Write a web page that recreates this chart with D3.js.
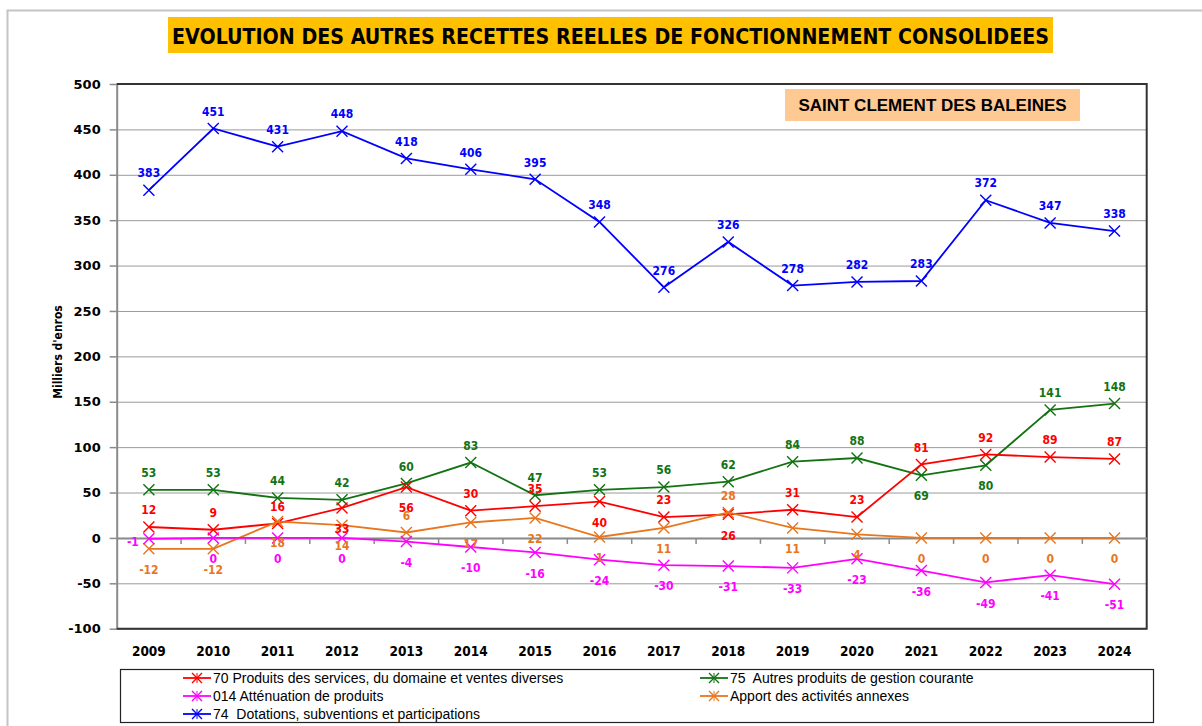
<!DOCTYPE html>
<html>
<head>
<meta charset="utf-8">
<script src="https://cdn.jsdelivr.net/npm/d3@7"></script>
<style>
  body { margin: 0; background: #fff; }
  svg { display: block; }
</style>
</head>
<body>
<script>
// --- data ---
var years = [2009, 2010, 2011, 2012, 2013, 2014, 2015, 2016, 2017, 2018, 2019, 2020, 2021, 2022, 2023, 2024];
var yTicks = [-100, -50, 0, 50, 100, 150, 200, 250, 300, 350, 400, 450, 500];

var produits70 = [12, 9, 16, 33, 56, 30, 35, 40, 23, 26, 31, 23, 81, 92, 89, 87];
var autres75 = [53, 53, 44, 42, 60, 83, 47, 53, 56, 62, 84, 88, 69, 80, 141, 148];
var attenuation014 = [-1, 0, 0, 0, -4, -10, -16, -24, -30, -31, -33, -23, -36, -49, -41, -51];
var apportAnnexes = [-12, -12, 18, 14, 6, 17, 22, 1, 11, 28, 11, 4, 0, 0, 0, 0];
var dotations74 = [383, 451, 431, 448, 418, 406, 395, 348, 276, 326, 278, 282, 283, 372, 347, 338];

var seriesNames = [
  "70 Produits des services, du domaine et ventes diverses",
  "75  Autres produits de gestion courante",
  "014 Atténuation de produits",
  "Apport des activités annexes",
  "74  Dotations, subventions et participations"
];

// label placement as in the original (a = above, b = below, l = left)
var place70 = "aaabbaababaaaaaa".split("");
var place75 = "aaaaaaaaaaaabbaa".split("");
var place014 = "lbbbbbbbbbbbbbbb".split("");
var placeApport = "bbbbabbbbabbbbbb".split("");
var place74 = "aaaaaaaaaaaaaaaa".split("");

var series = [
  { name: seriesNames[0], values: produits70, color: "#ff0000", place: place70 },
  { name: seriesNames[1], values: autres75, color: "#137313", place: place75 },
  { name: seriesNames[2], values: attenuation014, color: "#ff00ff", place: place014 },
  { name: seriesNames[3], values: apportAnnexes, color: "#e8761e", place: placeApport },
  { name: seriesNames[4], values: dotations74, color: "#0000ff", place: place74 }
];

var W = 1202, H = 726;
var plot = { left: 116.7, right: 1146.7, top: 84, bottom: 628.7 };

var svg = d3.select("body").append("svg")
  .attr("width", W)
  .attr("height", H);

// outer chart frame
svg.append("rect")
  .attr("x", 7.5).attr("y", 10.5)
  .attr("width", 1240).attr("height", 800)
  .attr("fill", "#fff")
  .attr("stroke", "#c4c4c4")
  .attr("stroke-width", 2);

// title
svg.append("rect")
  .attr("x", 168).attr("y", 17)
  .attr("width", 885).attr("height", 36)
  .attr("fill", "#ffc000");
svg.append("text")
  .attr("x", 172).attr("y", 43.5)
  .attr("textLength", 877)
  .attr("lengthAdjust", "spacingAndGlyphs")
  .style("font-family", "'DejaVu Sans Condensed', 'DejaVu Sans', sans-serif")
  .style("font-weight", "bold")
  .style("font-size", "21px")
  .text("EVOLUTION DES AUTRES RECETTES REELLES DE FONCTIONNEMENT CONSOLIDEES");

var x = d3.scaleBand()
  .domain(years)
  .range([plot.left, plot.right])
  .padding(0);
var cx = function (i) { return x(years[i]) + x.bandwidth() / 2; };

var y = d3.scaleLinear()
  .domain([-100, 500])
  .range([plot.bottom, plot.top]);

var width = plot.right - plot.left;

// gridlines
var grid = svg.append("g")
  .attr("transform", "translate(" + plot.left + ",0)")
  .call(d3.axisLeft(y).tickValues(yTicks).tickSize(-width).tickFormat(""));
grid.select(".domain").remove();
grid.selectAll("line").attr("stroke", "#9a9a9a").attr("stroke-width", 1);

// y axis with labels
var yAxis = svg.append("g")
  .attr("transform", "translate(" + plot.left + ",0)")
  .call(d3.axisLeft(y).tickValues(yTicks).tickSize(7).tickPadding(9).tickSizeOuter(0)
    .tickFormat(function (d) { return String(d); }));
yAxis.select(".domain").attr("stroke", "#8a8a8a").attr("stroke-width", 2);
yAxis.selectAll("line").attr("stroke", "#8a8a8a").attr("stroke-width", 1.5);
yAxis.selectAll("text")
  .style("font-family", "'DejaVu Sans', sans-serif")
  .style("font-weight", "bold")
  .style("font-size", "13px")
  .attr("fill", "#000");

// plot frame top/right/bottom
svg.append("path")
  .attr("d", "M" + plot.left + "," + plot.top + "H" + plot.right + "V" + plot.bottom + "H" + plot.left)
  .attr("fill", "none")
  .attr("stroke", "#333")
  .attr("stroke-width", 2);

// category axis crossing at zero
var xAxis = svg.append("g")
  .attr("transform", "translate(0," + y(0) + ")")
  .call(d3.axisBottom(x).tickSize(0).tickFormat(""));
xAxis.select(".domain").attr("stroke", "#8a8a8a").attr("stroke-width", 2);
xAxis.selectAll(".tick").remove();
xAxis.selectAll("line.bound")
  .data(years.slice(1))
  .join("line")
  .attr("class", "bound")
  .attr("x1", function (d) { return x(d); })
  .attr("x2", function (d) { return x(d); })
  .attr("y1", 0).attr("y2", 6)
  .attr("stroke", "#8a8a8a")
  .attr("stroke-width", 1.5);

// year labels
svg.append("g")
  .selectAll("text")
  .data(years)
  .join("text")
  .attr("x", function (d) { return x(d) + x.bandwidth() / 2; })
  .attr("y", 656)
  .attr("text-anchor", "middle")
  .style("font-family", "'DejaVu Sans Condensed', 'DejaVu Sans', sans-serif")
  .style("font-weight", "bold")
  .style("font-size", "13.5px")
  .text(function (d) { return d; });

// y axis title
svg.append("text")
  .attr("transform", "translate(62,352) rotate(-90)")
  .attr("text-anchor", "middle")
  .style("font-family", "'DejaVu Sans Condensed', 'DejaVu Sans', sans-serif")
  .style("font-weight", "bold")
  .style("font-size", "12px")
  .text("Milliers d'enros");

// subtitle box
svg.append("rect")
  .attr("x", 785).attr("y", 89)
  .attr("width", 295).attr("height", 32)
  .attr("fill", "#ffc994");
svg.append("text")
  .attr("x", 932.5).attr("y", 110.5)
  .attr("text-anchor", "middle")
  .style("font-family", "'Liberation Sans', Arial, sans-serif")
  .style("font-weight", "bold")
  .style("font-size", "17px")
  .text("SAINT CLEMENT DES BALEINES");

var line = d3.line()
  .x(function (d, i) { return cx(i); })
  .y(function (d) { return y(d); });

function cross(g, px, py, color, r) {
  g.append("path")
    .attr("d", "M" + (px - r) + "," + (py - r) + "L" + (px + r) + "," + (py + r) +
      "M" + (px - r) + "," + (py + r) + "L" + (px + r) + "," + (py - r))
    .attr("stroke", color)
    .attr("stroke-width", 1.4)
    .attr("fill", "none");
}

var drawOrder = [4, 1, 0, 3, 2];
drawOrder.forEach(function (k) {
  var s = series[k];
  var g = svg.append("g");
  g.append("path")
    .datum(s.values)
    .attr("d", line)
    .attr("fill", "none")
    .attr("stroke", s.color)
    .attr("stroke-width", 1.8);
  s.values.forEach(function (v, i) {
    cross(g, cx(i), y(v), s.color, 5.5);
  });
});

// data labels
drawOrder.forEach(function (k) {
  var s = series[k];
  svg.append("g")
    .selectAll("text")
    .data(s.values)
    .join("text")
    .attr("x", function (d, i) { return s.place[i] === "l" ? cx(i) - 10 : cx(i); })
    .attr("y", function (d, i) {
      var p = s.place[i];
      if (p === "a") return y(d) - 17;
      if (p === "b") return y(d) + 21;
      return y(d) + 3;
    })
    .attr("dy", "0.35em")
    .attr("text-anchor", function (d, i) { return s.place[i] === "l" ? "end" : "middle"; })
    .attr("fill", s.color)
    .style("font-family", "'DejaVu Sans Condensed', 'DejaVu Sans', sans-serif")
    .style("font-weight", "bold")
    .style("font-size", "12px")
    .text(function (d) { return d; });
});

// legend
var legend = svg.append("g");
legend.append("rect")
  .attr("x", 120.5).attr("y", 669.5)
  .attr("width", 1033).attr("height", 53)
  .attr("fill", "#fff")
  .attr("stroke", "#222")
  .attr("stroke-width", 1.2);

var legendOrder = [0, 1, 2, 3, 4];
legendOrder.forEach(function (k, j) {
  var s = series[k];
  var col = j % 2, row = Math.floor(j / 2);
  var lx = col === 0 ? 183 : 700;
  var ly = 678 + row * 18;
  legend.append("line")
    .attr("x1", lx).attr("x2", lx + 28)
    .attr("y1", ly).attr("y2", ly)
    .attr("stroke", s.color)
    .attr("stroke-width", 1.8);
  cross(legend, lx + 14, ly, s.color, 5);
  legend.append("line")
    .attr("x1", lx + 14).attr("x2", lx + 14)
    .attr("y1", ly - 5).attr("y2", ly + 5)
    .attr("stroke", s.color)
    .attr("stroke-width", 1);
  legend.append("text")
    .attr("x", lx + 30)
    .attr("y", ly)
    .attr("dy", "0.35em")
    .style("font-family", "'Liberation Sans', Arial, sans-serif")
    .style("font-size", "14px")
    .style("white-space", "pre")
    .text(s.name);
});
</script>
</body>
</html>
